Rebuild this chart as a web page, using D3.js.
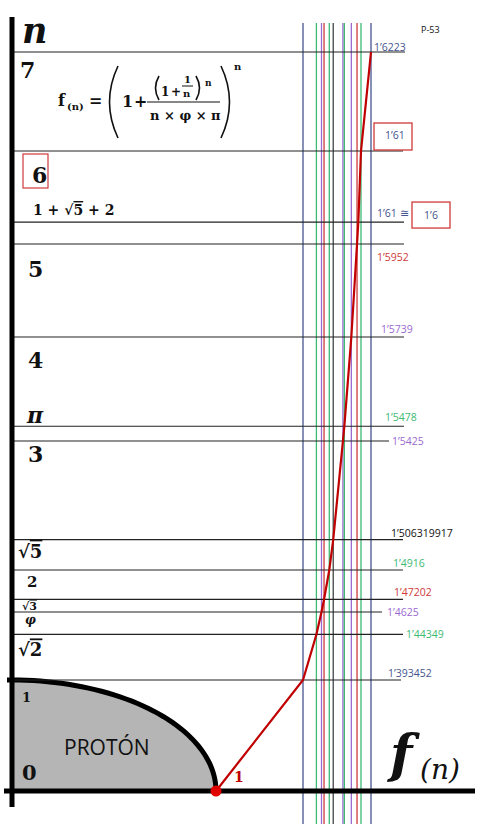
<!DOCTYPE html>
<html>
<head>
<meta charset="utf-8">
<script src="https://d3js.org/d3.v7.min.js"></script>
<style>
body {margin: 0; background: #fff;}
svg {display: block;}
.math {font-family: "DejaVu Serif", serif; font-weight: bold; fill: #111;}
.val {font-family: "Open Sans", sans-serif; font-size: 10.5px;}
.ov {text-decoration: overline;}
</style>
</head>
<body>
<svg width="485" height="836"></svg>
<script>
// values of n (vertical axis) and f(n) (horizontal axis)
var nValues = [1, Math.SQRT2, 1.618034, 1.732051, 2, 2.236068, 3, Math.PI, 4, 5, 5.236068, 6, 7];
var nNames = ["1", "√2", "φ", "√3", "2", "√5", "3", "π", "4", "5", "1+√5+2", "6", "7"];
var fValues = [1.393452, 1.44349, 1.4625, 1.47202, 1.4916, 1.506319917, 1.5425, 1.5478, 1.5739, 1.5952, 1.6, 1.61, 1.6223];
var fLabels = ["1’393452", "1’44349", "1’4625", "1’47202", "1’4916", "1’506319917", "1’5425", "1’5478", "1’5739", "1’5952", "1’61 ≅", "1’61", "1’6223"];
var origin = {f: 1, n: 0};

var navy = "#46548f", green = "#3dba74", purple = "#9a6bd0", red = "#d03a3a", grey = "#444";
// colour of the vertical line of each f value (null = no line)
var lineColors = [navy, green, purple, red, green, grey, purple, green, purple, red, null, green, navy];
var labelColors = [navy, green, purple, red, green, "#111", purple, green, purple, red, navy, navy, navy];
// label placement: x, baseline offset from line, line end
var labelX   = [388, 406, 387, 394, 393, 391, 392, 385, 381, 377, 377, 385, 374];
var labelDy  = [-3, 4, 4, -3, -3, -3, 4, -5, -4, 17, -5, -12, -1];
var lineEnd  = [401, 403, 382, 403, 403, 403, 389, 404, 404, 404, 404, 403, 405];
// left-side labels: x, baseline offset, font size
var leftX    = [22, 18, 25, 22, 27, 18, 28, 27, 28, 28, 33, 32, 20];
var leftDy   = [22, 22, 12, 11, 17, 18, 21, -3, 31, 33, -7, 32, 26];
var leftSize = [13, 18, 12, 11, 15, 18, 22, 22, 22, 22, 14, 22, 22];

var svg = d3.select("svg");

var x = d3.scaleLinear().domain([0, 1, 1.393452, 1.61, 1.6223]).range([12, 216, 303, 361, 371]);
var y = d3.scaleLinear().domain([0, 1, 2, 3, 4, 5, 6, 7]).range([791, 680, 570, 441, 337, 244, 151, 52]);

// proton quarter circle
var arcPts = d3.range(0, 91, 2).map(function(a) {
  var t = a * Math.PI / 180;
  return [x(Math.cos(t)), y(Math.sin(t))];
});
svg.append("path")
  .attr("d", "M" + x(0) + "," + y(0) + "L" + arcPts.map(function(p) { return p.join(","); }).join("L") + "Z")
  .attr("fill", "#b5b5b5");
svg.append("path")
  .attr("d", d3.line()(arcPts.concat([[x(0) - 5, y(1)]])))
  .attr("fill", "none").attr("stroke", "#000").attr("stroke-width", 5);

// vertical f lines
fValues.forEach(function(f, i) {
  if (!lineColors[i]) return;
  svg.append("line")
    .attr("x1", x(f)).attr("x2", x(f))
    .attr("y1", 23).attr("y2", 824)
    .attr("stroke", lineColors[i]).attr("stroke-width", 1.3);
});

// horizontal n lines
nValues.forEach(function(n, i) {
  svg.append("line")
    .attr("x1", x(0)).attr("x2", lineEnd[i])
    .attr("y1", y(n)).attr("y2", y(n))
    .attr("stroke", "#222").attr("stroke-width", 1.2);
});

// f(n) curve
var curvePts = [[origin.f, origin.n]].concat(nValues.map(function(n, i) { return [fValues[i], n]; }));
svg.append("path")
  .attr("d", d3.line().x(function(d) { return x(d[0]); }).y(function(d) { return y(d[1]); })(curvePts))
  .attr("fill", "none").attr("stroke", "#c00000").attr("stroke-width", 2.2);

// axes
svg.append("line").attr("x1", 12).attr("x2", 12).attr("y1", 17).attr("y2", 807)
  .attr("stroke", "#000").attr("stroke-width", 5);
svg.append("line").attr("x1", 4).attr("x2", 475).attr("y1", y(0)).attr("y2", y(0))
  .attr("stroke", "#000").attr("stroke-width", 5);

svg.append("circle").attr("cx", x(origin.f)).attr("cy", y(origin.n)).attr("r", 5.5).attr("fill", "#e00000");
svg.append("text").attr("class", "math").attr("x", x(origin.f) + 18).attr("y", y(0) - 9)
  .style("font-size", "14px").style("fill", "#c00000").text("1");

// right value labels
fLabels.forEach(function(lab, i) {
  var yy = y(nValues[i]);
  if (i == 11) {
    svg.append("rect").attr("x", 374).attr("y", yy - 28).attr("width", 38).attr("height", 27)
      .attr("fill", "#fff").attr("stroke", red).attr("stroke-width", 1.3);
  }
  svg.append("text").attr("class", "val")
    .attr("x", labelX[i]).attr("y", yy + labelDy[i])
    .style("fill", labelColors[i]).text(lab);
  if (i == 10) {
    svg.append("rect").attr("x", 412).attr("y", yy - 20).attr("width", 38).attr("height", 26)
      .attr("fill", "#fff").attr("stroke", red).attr("stroke-width", 1.3);
    svg.append("text").attr("class", "val").attr("x", 431).attr("y", yy - 3)
      .attr("text-anchor", "middle").style("fill", navy).text("1’6");
  }
});
svg.append("text").attr("class", "val").attr("x", 421).attr("y", 33)
  .style("font-size", "9px").style("fill", "#111").text("P-53");

// left n labels
nNames.forEach(function(name, i) {
  var t = svg.append("text").attr("class", "math")
    .attr("x", leftX[i]).attr("y", y(nValues[i]) + leftDy[i])
    .style("font-size", leftSize[i] + "px");
  if (name == "φ" || name == "π") t.style("font-style", "italic");
  var parts = name.split(/(√\d)/).filter(function(s) { return s; });
  parts.forEach(function(p) {
    if (p[0] == "√") {
      t.append("tspan").text("√");
      t.append("tspan").attr("class", "ov").text(p.slice(1));
    } else {
      t.append("tspan").text(p.replace(/\+/g, " + "));
    }
  });
  if (name == "6") {
    svg.append("rect").attr("x", 23).attr("y", y(6) + 3).attr("width", 25).attr("height", 34)
      .attr("fill", "none").attr("stroke", red).attr("stroke-width", 1.2);
  }
});
svg.append("text").attr("class", "math").attr("x", 22).attr("y", 780).style("font-size", "21px").text("0");
svg.append("text").attr("x", 64).attr("y", 755)
  .style("font-family", "'Open Sans', sans-serif").style("font-size", "21px").style("fill", "#111").text("PROTÓN");

// axis titles
svg.append("text").attr("class", "math").attr("x", 22).attr("y", 43)
  .style("font-size", "35px").style("font-style", "italic").text("n");
svg.append("text").attr("class", "math").attr("x", 390).attr("y", 772)
  .style("font-size", "52px").style("font-style", "italic").text("f");
svg.append("text").attr("class", "math").attr("x", 420).attr("y", 779)
  .style("font-size", "28px").style("font-weight", "normal").style("font-style", "italic").text("(n)");

// formula
var fm = svg.append("g").attr("class", "math");
function ft(tx, ty, size, str) {
  fm.append("text").attr("x", tx).attr("y", ty).style("font-size", size + "px").text(str);
}
function paren(d) {
  fm.append("path").attr("d", d).attr("fill", "none").attr("stroke", "#111").attr("stroke-width", 1.6);
}
ft(58, 106, 16, "f");
ft(67, 110, 10, "(n)");
ft(89, 106, 16, "=");
ft(122, 107, 16, "1");
ft(134, 107, 16, "+");
paren("M159,76 Q152,88 159,100");
ft(161, 96, 12, "1");
ft(171, 96, 12, "+");
ft(184, 83, 10, "1");
ft(183, 97, 10, "n");
paren("M196,76 Q203,88 196,100");
ft(205, 86, 9, "n");
ft(150, 120, 13, "n × φ × π");
ft(234, 70, 10, "n");
fm.append("line").attr("x1", 147).attr("x2", 220).attr("y1", 102).attr("y2", 102)
  .attr("stroke", "#111").attr("stroke-width", 1.2);
fm.append("line").attr("x1", 182).attr("x2", 193).attr("y1", 86).attr("y2", 86)
  .attr("stroke", "#111").attr("stroke-width", 1);
paren("M118,66 Q101,102 118,138");
paren("M221,66 Q238,102 221,138");
</script>
</body>
</html>
